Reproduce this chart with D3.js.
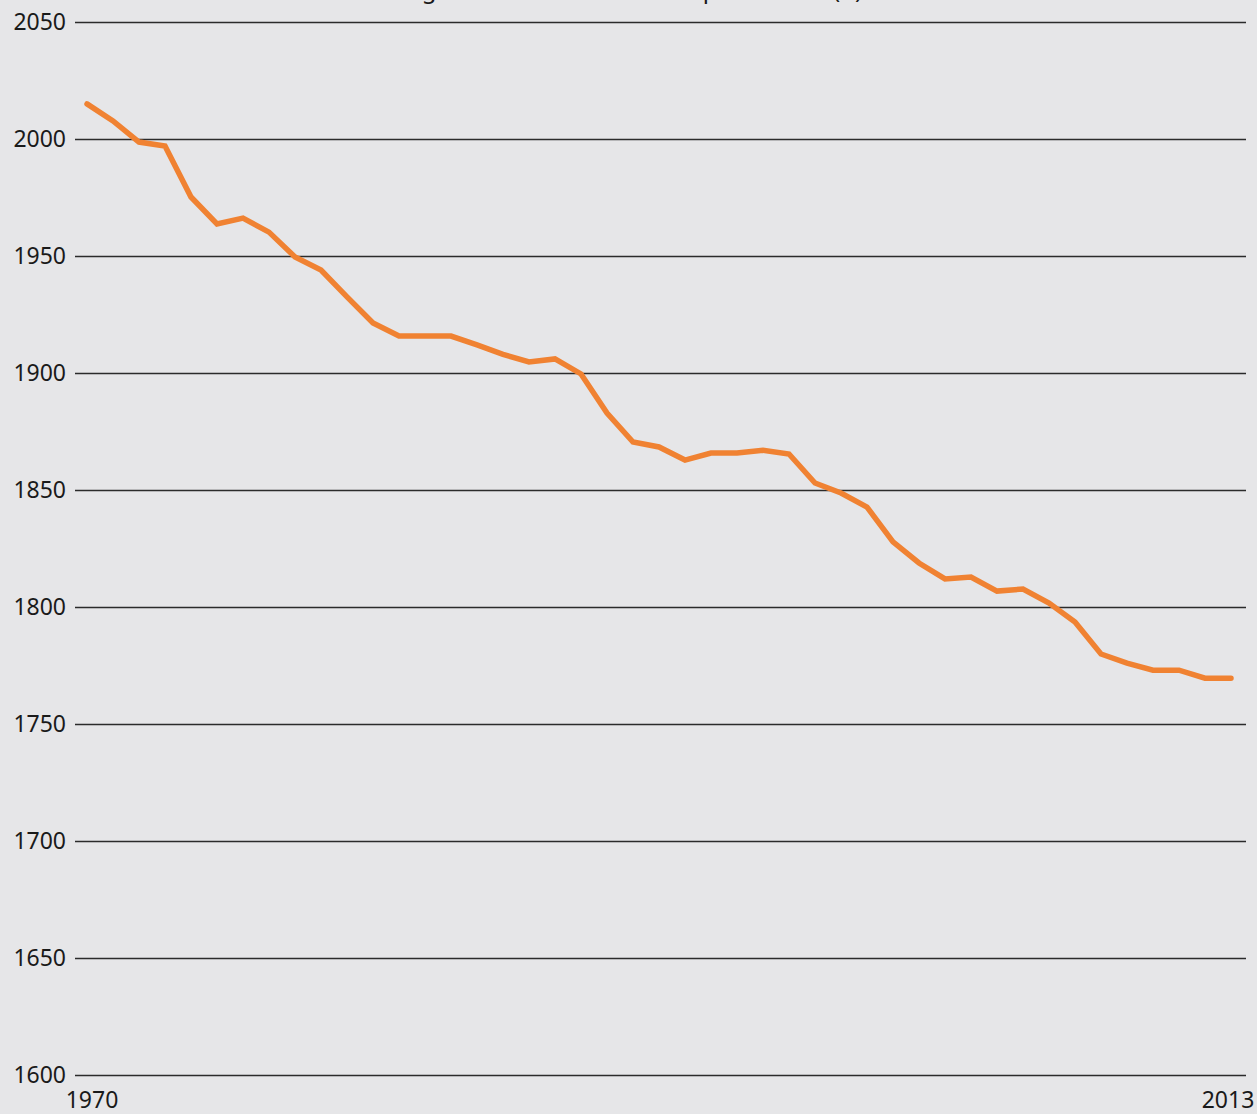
<!DOCTYPE html>
<html>
<head>
<meta charset="utf-8">
<title>Average annual hours worked</title>
<script src="https://d3js.org/d3.v7.min.js"></script>
<style>
  body { margin: 0; background: #e6e6e8; }
  svg { display: block; }
  .y-axis text, .x-label { font-family: 'Noto Sans', sans-serif; font-size: 23px; fill: #1a1a1a; }
  .title { font-family: 'Noto Sans', sans-serif; font-size: 24px; fill: #1a1a1a; }
</style>
</head>
<body>
<svg width="1257" height="1114"></svg>
<script>

// data (one value per year, 45 points)
const hours = [
  2015, 2007.7, 1998.7, 1997, 1975.2, 1963.7, 1966.2, 1960.2, 1949.6, 1944,
  1932.5, 1921.4, 1915.8, 1915.8, 1915.8, 1912, 1908, 1904.7, 1906, 1899.6,
  1882.9, 1870.5, 1868.4, 1862.8, 1865.8, 1865.8, 1867, 1865.4, 1853, 1848.7,
  1842.7, 1827.8, 1818.8, 1812, 1812.8, 1806.8, 1807.7, 1801.7, 1793.6, 1779.9,
  1776, 1773, 1773, 1769.6, 1769.6
];
const yTicks = [1600, 1650, 1700, 1750, 1800, 1850, 1900, 1950, 2000, 2050];
const xTickLabels = ['1970', '2013'];
const titleText = 'Average annual hours worked per worker (h)';

const svg = d3.select('svg');

const x = d3.scaleLinear()
    .domain([0, hours.length - 1])
    .range([87, 1231]);

const y = d3.scaleLinear()
    .domain([1600, 2050])
    .range([1075, 22]);

// title (cut off at the top edge, as in the original)
svg.append('text')
    .attr('class', 'title')
    .attr('x', 610)
    .attr('y', -2)
    .attr('text-anchor', 'middle')
    .text(titleText);

// y axis with gridlines
const yAxis = d3.axisLeft(y)
    .tickValues(yTicks)
    .tickFormat(d3.format('d'))
    .tickSize(1171)
    .tickPadding(9);

const yAxisG = svg.append('g')
    .attr('class', 'y-axis')
    .attr('transform', 'translate(1246,0)')
    .call(yAxis);
yAxisG.select('.domain').remove();
yAxisG.selectAll('line')
    .attr('stroke', '#2b2b2b')
    .attr('stroke-width', 1.6);
yAxisG.selectAll('text')
    .attr('dy', '0.33em');

// x labels at first and last point
svg.selectAll('.x-label')
  .data(xTickLabels)
  .enter().append('text')
    .attr('class', 'x-label')
    .attr('x', (d, i) => i === 0 ? x(0) + 5 : x(hours.length - 1) - 3)
    .attr('y', 1108)
    .attr('text-anchor', 'middle')
    .text(d => d);

// the line
const line = d3.line()
    .x((d, i) => x(i))
    .y(d => y(d));

svg.append('path')
    .datum(hours)
    .attr('d', line)
    .attr('fill', 'none')
    .attr('stroke', '#f08232')
    .attr('stroke-width', 5.5)
    .attr('stroke-linejoin', 'miter')
    .attr('stroke-linecap', 'round');

</script>
</body>
</html>
